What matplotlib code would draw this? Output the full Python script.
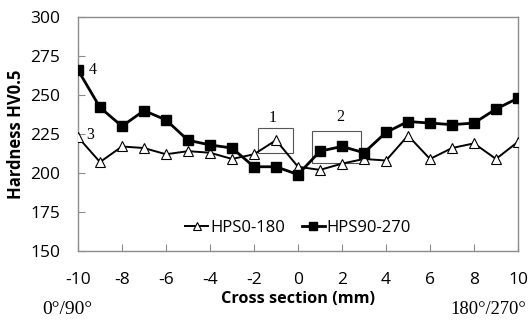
import matplotlib.pyplot as plt
from matplotlib.patches import Rectangle
import numpy as np

x = np.arange(-10, 11)
hps0_180 = [223, 207, 217, 216, 212, 214, 213, 209, 212, 221, 204,
            202, 206, 209, 208, 224, 209, 216, 219, 209, 220]
hps90_270 = [266, 242, 230, 240, 234, 221, 218, 216, 204, 204, 199,
             214, 217, 213, 226, 233, 232, 231, 232, 241, 248]
xticks = [-10, -8, -6, -4, -2, 0, 2, 4, 6, 8, 10]
yticks = [150, 175, 200, 225, 250, 275, 300]

plt.rcParams['font.family'] = ['Open Sans', 'DejaVu Sans']
plt.rcParams['axes.unicode_minus'] = False
serif = 'Liberation Serif'
grey = '#8c8c8c'

fig = plt.figure(figsize=(5.28, 3.2), dpi=100)
ax = fig.add_axes([78 / 528, 1 - 251 / 320, 440 / 528, 234 / 320])

ax.plot(x, hps0_180, color='black', lw=1.4, marker='^', ms=7,
        mfc='white', mec='black', mew=0.8, label='HPS0-180', zorder=3)
ax.plot(x, hps90_270, color='black', lw=2.0, marker='s', ms=7,
        mfc='black', mec='black', label='HPS90-270', zorder=3)

# marked regions
ax.add_patch(Rectangle((-1.8, 212.6), 1.56, 16.1, fill=False, ec='#555555', lw=0.8))
ax.add_patch(Rectangle((0.62, 206.2), 2.23, 20.7, fill=False, ec='#555555', lw=0.8))
ax.text(-1.17, 235, '1', family=serif, fontsize=11.5, ha='center', va='center')
ax.text(1.94, 235.7, '2', family=serif, fontsize=11.5, ha='center', va='center')
ax.text(-9.45, 224.4, '3', family=serif, fontsize=11.5, ha='center', va='center')
ax.text(-9.35, 266, '4', family=serif, fontsize=11.5, ha='center', va='center')

ax.set_xlim(-10, 10)
ax.set_ylim(150, 300)
ax.set_xticks(xticks)
ax.set_yticks(yticks)
ax.tick_params(direction='in', length=5, color=grey, labelsize=12.5)
ax.tick_params(axis='x', pad=15)
ax.tick_params(axis='y', pad=13)
for s in ax.spines.values():
    s.set_color(grey)
    s.set_linewidth(1.0)

ax.set_xlabel('Cross section (mm)', fontsize=11.7, fontweight='bold')
ax.set_ylabel('Hardness HV0.5', fontsize=12, fontweight='bold')
ax.xaxis.set_label_coords(0.5, -0.172)
ax.yaxis.set_label_coords(-0.12, 0.5)

ax.legend(loc='center', bbox_to_anchor=(0.5, 0.098), ncol=2, frameon=False,
          fontsize=12, handlelength=1.4, handletextpad=0.1, columnspacing=1.0,
          markerscale=0.8)

fig.text(42 / 528, 1 - 309 / 320, '0°/90°', family=serif, fontsize=14,
         ha='left', va='center')
fig.text(526 / 528, 1 - 309 / 320, '180°/270°', family=serif, fontsize=13.3,
         ha='right', va='center')

fig.savefig('out.png', dpi=100)
